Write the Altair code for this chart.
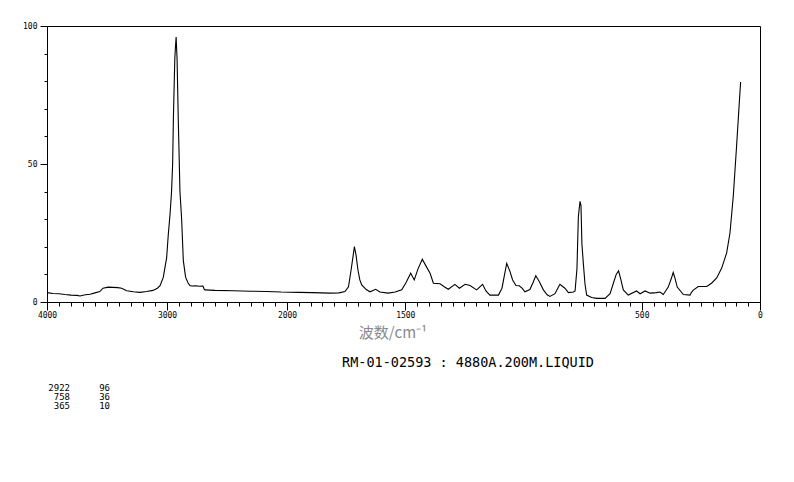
import altair as alt
import pandas as pd

# Raman spectrum
wavenumber = [4000, 3950, 3900, 3850, 3800, 3750, 3725, 3680, 3640, 3600, 3560, 3533, 3490, 3450,
              3410, 3378, 3336, 3280, 3225, 3170, 3117, 3080, 3058, 3031, 3015, 3003, 2990, 2975,
              2962, 2953, 2947, 2935, 2930, 2924, 2916, 2906, 2892, 2878, 2864, 2845, 2825, 2810,
              2794, 2760, 2730, 2700, 2690, 2683, 2600, 2450, 2300, 2169, 2050, 1950, 1892, 1818,
              1780, 1755, 1740, 1729, 1720, 1715, 1708, 1700, 1692, 1684, 1665, 1649, 1625, 1607,
              1573, 1543, 1515, 1497, 1477, 1462, 1446, 1428, 1412, 1395, 1381, 1353, 1335, 1318,
              1290, 1271, 1247, 1226, 1198, 1173, 1159, 1142, 1106, 1091, 1080, 1071, 1057, 1046,
              1032, 1018, 1006, 994, 973, 960, 948, 934, 916, 900, 888, 867, 855, 846, 825, 810,
              789, 782, 774, 768, 761, 757, 753, 747, 740, 733, 712, 690, 655, 634, 620, 608, 598,
              588, 578, 557, 522, 507, 486, 465, 437, 423, 409, 388, 375, 367, 359, 350, 324, 296,
              289, 282, 261, 240, 225, 204, 183, 162, 141, 127, 113, 99, 88, 82]
intensity = [3.4, 3.1, 3.0, 2.7, 2.5, 2.4, 2.2, 2.6, 2.8, 3.3, 3.8, 5.0, 5.4, 5.3,
             5.2, 5.0, 4.1, 3.7, 3.5, 3.8, 4.2, 5.0, 5.9, 8.9, 13, 16, 24, 31.6,
             40, 50, 66, 88, 92, 96, 88, 66, 40, 30, 15, 9, 7, 6,
             5.8, 5.9, 5.7, 5.8, 4.6, 4.4, 4.2, 4.1, 3.9, 3.8, 3.6, 3.5, 3.4, 3.2,
             3.3, 3.8, 5.5, 11.6, 17, 20.1, 17, 11.6, 8, 6.2, 4.5, 3.7, 4.6, 3.6,
             3.2, 3.6, 4.4, 7, 10.4, 8, 12, 15.5, 13, 10.4, 6.8, 6.6, 5.5, 4.6,
             6.4, 5.0, 6.4, 6.0, 4.4, 6.4, 4.0, 2.5, 2.5, 5.0, 10, 14, 11, 8,
             6, 5.9, 5, 3.7, 4.5, 7, 9.5, 7.5, 4.4, 2.6, 2, 3, 5, 6.4, 5, 3.4,
             3.6, 4, 12, 31, 36.5, 35, 21, 14, 6.5, 2.5, 1.6, 1.3, 1.3, 3, 6.8, 10, 11.3,
             8, 4.4, 2.5, 4, 3, 4, 3.2, 3.4, 3.6, 2.7, 5.4, 8.5, 10.7, 8.5, 5.4, 2.7, 2.5,
             3.6, 4.3, 5.6, 5.6, 5.6, 6.9, 8.7, 12.3, 17.8, 25, 38.3, 56.5, 71.6, 79.7]

peak_positions = ["2922", "758", "365"]
peak_heights = ["96", "36", "10"]
sample_label = "RM-01-02593 : 4880A.200M.LIQUID"
x_title = "波数/cm⁻¹"

x_major = [4000, 3000, 2000, 1500, 500, 0]
x_minor = [v for v in range(4000, 2000, -100)] + [v for v in range(2000, -1, -50)]
y_major = [0, 50, 100]
y_minor = [10, 20, 30, 40, 60, 70, 80, 90]

df = pd.DataFrame({"wn": wavenumber, "val": intensity})
one = pd.DataFrame({"k": [0]})

W, H = 713, 276
xscale = alt.Scale(domain=[4000, 2000, 0], range=[0, 240, W], nice=False, zero=False)
yscale = alt.Scale(domain=[0, 100], nice=False, zero=False)

lab = dict(labelFont="DejaVu Sans Mono", labelFontSize=8, labelColor="black",
           tickColor="black", domainColor="black", grid=False, title=None,
           labelFlush=False, labelOverlap=False)

line = alt.Chart(df).mark_line(color="black", strokeWidth=1.1).encode(
    x=alt.X("wn:Q", scale=xscale,
            axis=alt.Axis(values=x_major, format="d", tickSize=8, labelPadding=1,
                          orient="bottom", **lab)),
    y=alt.Y("val:Q", scale=yscale,
            axis=alt.Axis(values=y_major, format="d", tickSize=7, labelPadding=3,
                          orient="left", **lab)),
)

minor = alt.Chart(df).mark_line(strokeOpacity=0).encode(
    x=alt.X("wn:Q", scale=xscale,
            axis=alt.Axis(values=x_minor, labels=False, domain=False, tickSize=4,
                          tickColor="black", grid=False, title=None, orient="bottom")),
    y=alt.Y("val:Q", scale=yscale,
            axis=alt.Axis(values=y_minor, labels=False, domain=False, tickSize=3,
                          tickColor="black", grid=False, title=None, orient="left")),
)

frame = alt.Chart(df).mark_line(strokeOpacity=0).encode(
    x=alt.X("wn:Q", scale=xscale,
            axis=alt.Axis(ticks=False, labels=False, domain=True, domainColor="black",
                          grid=False, title=None, orient="top")),
    y=alt.Y("val:Q", scale=yscale,
            axis=alt.Axis(ticks=False, labels=False, domain=True, domainColor="black",
                          grid=False, title=None, orient="right")),
)

xtitle = alt.Chart(one).mark_text(text=x_title, font="Noto Sans CJK SC", fontSize=15,
                                  color="#8a8a8a", align="center", baseline="middle").encode(
    x=alt.value(346), y=alt.value(307))

label = alt.Chart(one).mark_text(text=sample_label, font="DejaVu Sans Mono", fontSize=13.5,
                                 color="black", align="center", baseline="middle").encode(
    x=alt.value(421), y=alt.value(337))

tab1 = alt.Chart(one).mark_text(text=peak_positions, font="DejaVu Sans Mono", fontSize=9,
                                lineHeight=9, color="black", align="right", baseline="top").encode(
    x=alt.value(23), y=alt.value(358))
tab2 = alt.Chart(one).mark_text(text=peak_heights, font="DejaVu Sans Mono", fontSize=9,
                                lineHeight=9, color="black", align="right", baseline="top").encode(
    x=alt.value(63), y=alt.value(358))

chart = alt.layer(line, minor, frame, xtitle, label, tab1, tab2).resolve_axis(
    x="independent", y="independent"
).properties(
    width=W, height=H,
    background="white",
    autosize=alt.AutoSizeParams(type="none"),
    padding={"left": 39, "top": 18, "right": 18, "bottom": 156},
).configure_view(stroke=None)

chart.save("out.html", embed_options={"renderer": "svg", "actions": False})
